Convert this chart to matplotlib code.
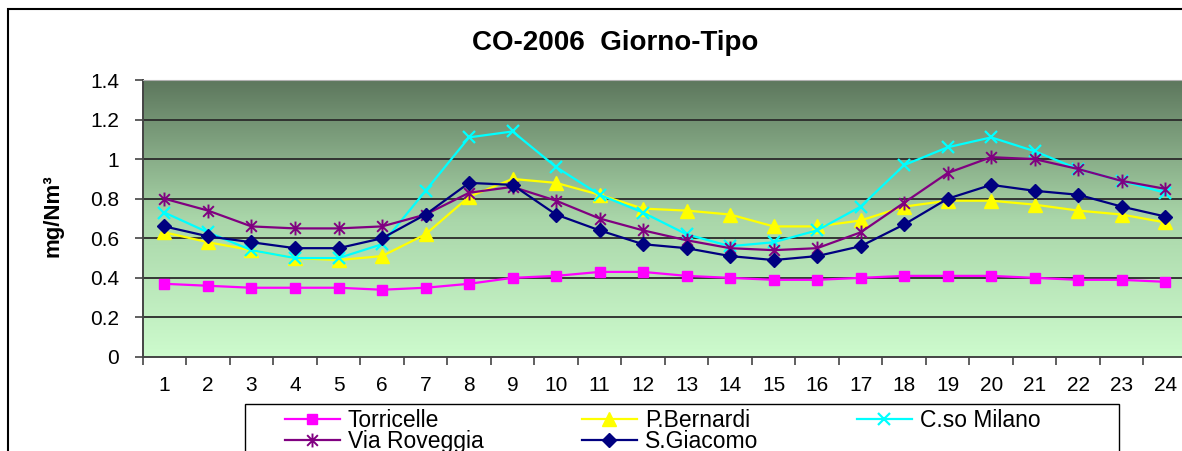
import numpy as np
import matplotlib.pyplot as plt
from matplotlib.path import Path
from matplotlib.patches import Rectangle
from matplotlib.colors import LinearSegmentedColormap

plt.rcParams['font.family'] = ['Liberation Sans', 'DejaVu Sans']

hours = list(range(1, 25))

torricelle = [0.37, 0.36, 0.35, 0.35, 0.35, 0.34, 0.35, 0.37, 0.40, 0.41, 0.43, 0.43,
              0.41, 0.40, 0.39, 0.39, 0.40, 0.41, 0.41, 0.41, 0.40, 0.39, 0.39, 0.38]
p_bernardi = [0.63, 0.58, 0.54, 0.50, 0.49, 0.51, 0.62, 0.81, 0.90, 0.88, 0.82, 0.75,
              0.74, 0.72, 0.66, 0.66, 0.69, 0.76, 0.79, 0.79, 0.77, 0.74, 0.72, 0.68]
cso_milano = [0.73, 0.63, 0.54, 0.50, 0.50, 0.57, 0.84, 1.11, 1.14, 0.96, 0.82, 0.73,
              0.62, 0.56, 0.58, 0.64, 0.76, 0.97, 1.06, 1.11, 1.04, 0.95, 0.89, 0.83]
via_roveggia = [0.80, 0.74, 0.66, 0.65, 0.65, 0.66, 0.72, 0.83, 0.86, 0.79, 0.70, 0.64,
                0.59, 0.55, 0.54, 0.55, 0.63, 0.78, 0.93, 1.01, 1.00, 0.95, 0.89, 0.85]
s_giacomo = [0.66, 0.61, 0.58, 0.55, 0.55, 0.60, 0.72, 0.88, 0.87, 0.72, 0.64, 0.57,
             0.55, 0.51, 0.49, 0.51, 0.56, 0.67, 0.80, 0.87, 0.84, 0.82, 0.76, 0.71]

y_ticks = [0, 0.2, 0.4, 0.6, 0.8, 1, 1.2, 1.4]
y_labels = ['0', '0.2', '0.4', '0.6', '0.8', '1', '1.2', '1.4']

# asterisk marker like excel (x + vertical bar)
star = Path([(-1, -1), (1, 1), (-1, 1), (1, -1), (0, -1.3), (0, 1.3)],
            [Path.MOVETO, Path.LINETO, Path.MOVETO, Path.LINETO, Path.MOVETO, Path.LINETO])

W, H = 1182, 451
fig = plt.figure(figsize=(W / 100, H / 100), dpi=100)
ax = fig.add_axes([142.7 / W, 1 - 357 / H, (1187 - 142.7) / W, 277 / H])

# background gradient
cmap = LinearSegmentedColormap.from_list('bg', ['#cdfbcd', '#a9d6a9', '#5d775d'])
grad = np.linspace(0, 1, 256).reshape(-1, 1)
ax.imshow(grad, cmap=cmap, origin='lower', aspect='auto',
          extent=[0.5, 24.5, 0, 1.4], zorder=0)

for yv in y_ticks[1:-1]:
    ax.axhline(yv, color='#2a2a2a', lw=1.3, zorder=1)

lw = 1.6
ax.plot(hours, torricelle, color='#ff00ff', lw=lw, marker='s', ms=7.5, label='Torricelle', zorder=3)
ax.plot(hours, p_bernardi, color='#ffff00', lw=lw, marker='^', ms=10, label='P.Bernardi', zorder=3)
ax.plot(hours, cso_milano, color='#00ffff', lw=lw, marker='x', ms=9, mew=1.6, label='C.so Milano', zorder=3)
ax.plot(hours, via_roveggia, color='#800080', lw=lw, marker=star, ms=10, mew=1.4,
        mfc='none', label='Via Roveggia', zorder=3)
ax.plot(hours, s_giacomo, color='#000080', lw=lw, marker='D', ms=7.5, label='S.Giacomo', zorder=3)

ax.set_xlim(0.5, 24.5)
ax.set_ylim(0, 1.4)
ax.set_yticks(y_ticks)
ax.set_yticklabels(y_labels)
ax.set_xticks(hours)
ax.set_xticks(np.arange(0.5, 25, 1), minor=True)
ax.tick_params(axis='y', length=6, width=1.2, color='#444444', pad=11, labelsize=15)
ax.tick_params(axis='x', which='major', length=0, pad=14, labelsize=15)
ax.tick_params(axis='x', which='minor', length=6, width=1.2, color='#444444')
ax.spines['left'].set_color('#444444')
ax.spines['left'].set_linewidth(1.4)
ax.spines['bottom'].set_color('#444444')
ax.spines['bottom'].set_linewidth(1.4)
ax.spines['top'].set_color('#b0b0b0')
ax.spines['right'].set_visible(False)

fig.text(615 / W, 1 - 43 / H, 'CO-2006  Giorno-Tipo', ha='center', va='center',
         fontsize=20, fontweight='bold')
fig.text(53 / W, 1 - 216 / H, 'mg/Nm³', rotation=90, ha='center', va='center',
         fontsize=16, fontweight='bold')

# outer chart frame (cropped on right and bottom)
fig.patches.append(Rectangle((8 / W, -0.1), 1.2, 1 - 9 / H + 0.1, transform=fig.transFigure,
                             fill=False, edgecolor='black', lw=1.5))
# legend frame (cropped at bottom)
fig.patches.append(Rectangle((245 / W, -0.1), (1119 - 245) / W, 1 - 404 / H + 0.1,
                             transform=fig.transFigure, facecolor='white',
                             edgecolor='black', lw=1.0))

h, l = ax.get_legend_handles_labels()
order = [0, 3, 1, 4, 2]
leg = fig.legend([h[i] for i in order], [l[i] for i in order], ncol=3,
                 loc='upper left', bbox_to_anchor=(280 / W, 1 - 404 / H),
                 fontsize=16.5, frameon=False, handlelength=2.4, handletextpad=0.35,
                 labelspacing=-0.05, columnspacing=4.3, borderpad=0.2,
                 borderaxespad=0)

fig.savefig('out.png', dpi=100)
